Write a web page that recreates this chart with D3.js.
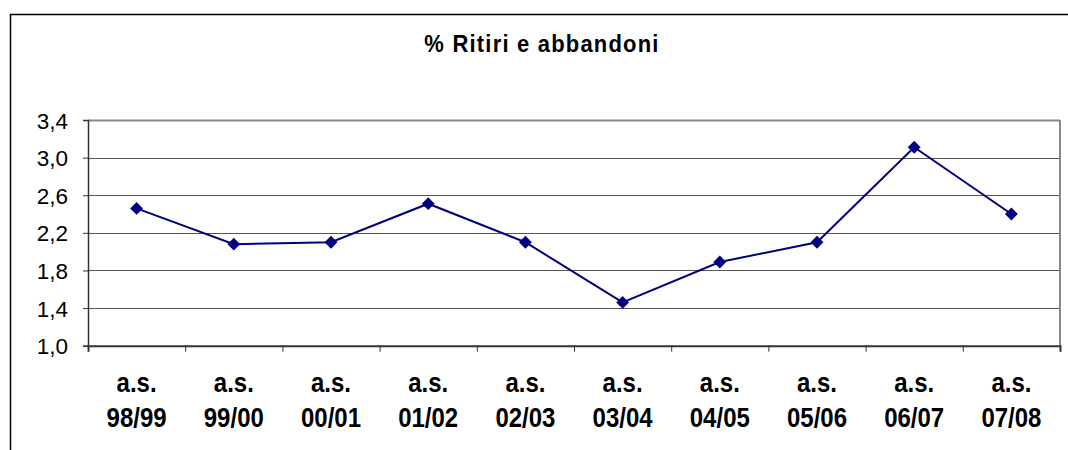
<!DOCTYPE html>
<html><head><meta charset="utf-8">
<script src="https://cdn.jsdelivr.net/npm/d3@7"></script>
<style>body{margin:0;background:#fff}svg{display:block}text{font-family:"Liberation Sans",Arial,sans-serif}</style>
</head><body>
<svg id="c" width="1068" height="450"></svg>
<script>
const categories = ["98/99","99/00","00/01","01/02","02/03","03/04","04/05","05/06","06/07","07/08"];
const values = [2.46, 2.08, 2.10, 2.51, 2.10, 1.46, 1.89, 2.10, 3.11, 2.40];
const yTicks = [1.0, 1.4, 1.8, 2.2, 2.6, 3.0, 3.4];
const title = "% Ritiri e abbandoni";
const prefix = "a.s.";

const svg = d3.select("#c");
const L = 88, R = 1060, T = 120, B = 345.7;

// outer chart border (partially visible)
svg.append("path").attr("d", `M10.5,450 L10.5,14.5 L1068,14.5`).attr("fill","none").attr("stroke","#000").attr("stroke-width",1.5);

svg.append("text").attr("transform", "translate(542,52) scale(1,1.08)").attr("text-anchor","middle")
  .attr("font-size", 22).attr("font-weight","bold").attr("letter-spacing", 1.2).text(title);

const x = d3.scaleBand().domain(categories).range([L, R]);
const y = d3.scaleLinear().domain([1.0, 3.4]).range([B, T]);

// gridlines
svg.append("g").selectAll("line").data(yTicks.slice(1)).join("line")
  .attr("x1", L).attr("x2", R).attr("y1", d => Math.round(y(d))+0.5).attr("y2", d => Math.round(y(d))+0.5)
  .attr("stroke", d => d === 3.4 ? "#888" : "#555").attr("stroke-width", d => d===3.4?2:1.2);
// right border
svg.append("line").attr("x1", R).attr("x2", R).attr("y1", T).attr("y2", B).attr("stroke","#888").attr("stroke-width",2);

// y axis
const yAxis = d3.axisLeft(y).tickValues(yTicks).tickSize(5).tickFormat(d => d3.format(".1f")(d).replace(".", ","));
const gy = svg.append("g").attr("transform", `translate(${L},0)`).call(yAxis);
gy.select(".domain").attr("stroke","#333").attr("stroke-width",1.5);
gy.selectAll(".tick line").attr("stroke","#333");
gy.selectAll("text").attr("font-size", 22.5).attr("fill","#000").attr("x", -20).attr("dy", "0.36em")
  .attr("font-family","'Liberation Sans',Arial,sans-serif");

// x axis
const xAxis = d3.axisBottom(d3.scaleLinear().domain([0, categories.length]).range([L, R]))
  .tickValues(d3.range(categories.length+1)).tickSize(6).tickFormat("");
const gx = svg.append("g").attr("transform", `translate(0,${B})`).call(xAxis);
gx.select(".domain").attr("stroke","#333").attr("stroke-width",2);
gx.selectAll(".tick line").attr("stroke","#333");

const cx = d => x(d) + x.bandwidth()/2;
const labs = svg.append("g").selectAll("g").data(categories).join("g");
labs.append("text").attr("transform", d => `translate(${cx(d)},392) scale(1,1.15)`)
  .attr("text-anchor","middle").attr("font-size", 24).attr("font-weight","bold").text(prefix);
labs.append("text").attr("transform", d => `translate(${cx(d)},427) scale(1,1.18)`)
  .attr("text-anchor","middle").attr("font-size", 24).attr("font-weight","bold").text(d => d);

// line
const line = d3.line().x((d,i) => cx(categories[i])).y(d => y(d));
svg.append("path").datum(values).attr("d", line).attr("fill","none").attr("stroke","#000080").attr("stroke-width",2);

svg.append("g").selectAll("path").data(values).join("path")
  .attr("transform", (d,i) => `translate(${cx(categories[i])},${y(d)})`)
  .attr("d", d3.symbol(d3.symbolDiamond2, 105)).attr("fill","#000080");
</script>
</body></html>
